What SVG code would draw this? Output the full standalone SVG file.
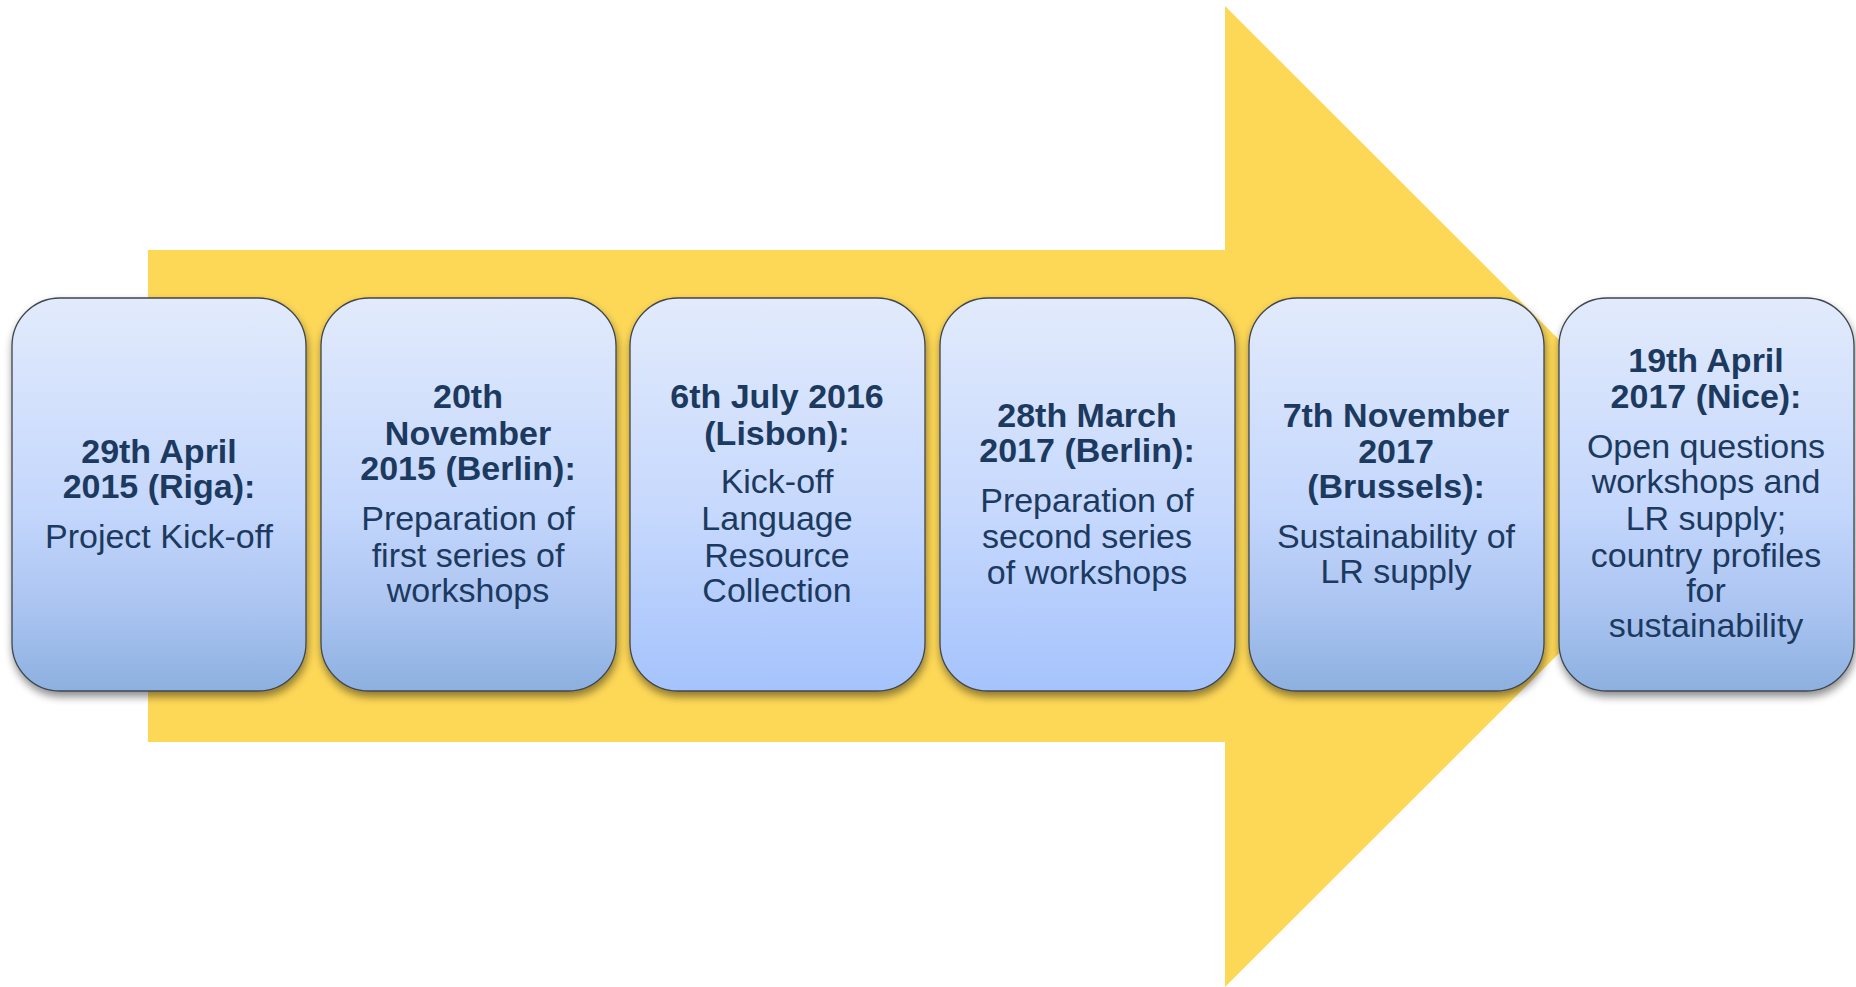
<svg xmlns="http://www.w3.org/2000/svg" width="1856" height="987" viewBox="0 0 1856 987">
<defs>
<linearGradient id="gA" x1="0" y1="0" x2="0" y2="1">
<stop offset="0" stop-color="#e2ebfc"/>
<stop offset="0.55" stop-color="#c3d6fc"/>
<stop offset="0.8" stop-color="#a9c3f0"/>
<stop offset="1" stop-color="#8cb0e0"/>
</linearGradient>
<linearGradient id="gB" x1="0" y1="0" x2="0" y2="1">
<stop offset="0" stop-color="#e2ebfc"/>
<stop offset="0.55" stop-color="#c6d8fd"/>
<stop offset="1" stop-color="#a5c3fc"/>
</linearGradient>
<filter id="sh" x="-10%" y="-10%" width="120%" height="125%">
<feGaussianBlur in="SourceAlpha" stdDeviation="4"/>
<feOffset dx="1" dy="5" result="b"/>
<feComponentTransfer><feFuncA type="linear" slope="0.45"/></feComponentTransfer>
<feMerge><feMergeNode/><feMergeNode in="SourceGraphic"/></feMerge>
</filter>
</defs>
<style>
.box{stroke:#3f4650;stroke-width:1.3;filter:url(#sh)}
.t{font-family:"Liberation Sans",Arial,sans-serif;font-size:34px;fill:#1c3a60;text-anchor:middle}
.b{font-weight:bold}
</style>
<g id="arrow">
<polygon points="148,250 1225,250 1225,6 1716,496.5 1225,987 1225,742 148,742" fill="#fdd756"/>
</g>
<g id="connectors"></g>
<g id="n1">
<rect class="box" x="12" y="298" width="294" height="393" rx="48" fill="url(#gA)"/>
<text class="t b" x="159" y="463">29th April</text>
<text class="t b" x="159" y="498">2015 (Riga):</text>
<text class="t" x="159" y="548">Project Kick-off</text>
</g>
<g id="n2">
<rect class="box" x="321" y="298" width="295" height="393" rx="48" fill="url(#gA)"/>
<text class="t b" x="468" y="408">20th</text>
<text class="t b" x="468" y="445">November</text>
<text class="t b" x="468" y="480">2015 (Berlin):</text>
<text class="t" x="468" y="530">Preparation of</text>
<text class="t" x="468" y="567">first series of</text>
<text class="t" x="468" y="602">workshops</text>
</g>
<g id="n3">
<rect class="box" x="630" y="298" width="295" height="393" rx="48" fill="url(#gB)"/>
<text class="t b" x="777" y="408">6th July 2016</text>
<text class="t b" x="777" y="445">(Lisbon):</text>
<text class="t" x="777" y="493">Kick-off</text>
<text class="t" x="777" y="530">Language</text>
<text class="t" x="777" y="567">Resource</text>
<text class="t" x="777" y="602">Collection</text>
</g>
<g id="n4">
<rect class="box" x="940" y="298" width="295" height="393" rx="48" fill="url(#gB)"/>
<text class="t b" x="1087" y="427">28th March</text>
<text class="t b" x="1087" y="462">2017 (Berlin):</text>
<text class="t" x="1087" y="512">Preparation of</text>
<text class="t" x="1087" y="548">second series</text>
<text class="t" x="1087" y="584">of workshops</text>
</g>
<g id="n5">
<rect class="box" x="1249" y="298" width="295" height="393" rx="48" fill="url(#gA)"/>
<text class="t b" x="1396" y="427">7th November</text>
<text class="t b" x="1396" y="463">2017</text>
<text class="t b" x="1396" y="498">(Brussels):</text>
<text class="t" x="1396" y="548">Sustainability of</text>
<text class="t" x="1396" y="583">LR supply</text>
</g>
<g id="n6">
<rect class="box" x="1559" y="298" width="295" height="393" rx="48" fill="url(#gA)"/>
<text class="t b" x="1706" y="372">19th April</text>
<text class="t b" x="1706" y="408">2017 (Nice):</text>
<text class="t" x="1706" y="458">Open questions</text>
<text class="t" x="1706" y="493">workshops and</text>
<text class="t" x="1706" y="530">LR supply;</text>
<text class="t" x="1706" y="567">country profiles</text>
<text class="t" x="1706" y="602">for</text>
<text class="t" x="1706" y="637">sustainability</text>
</g>
</svg>
